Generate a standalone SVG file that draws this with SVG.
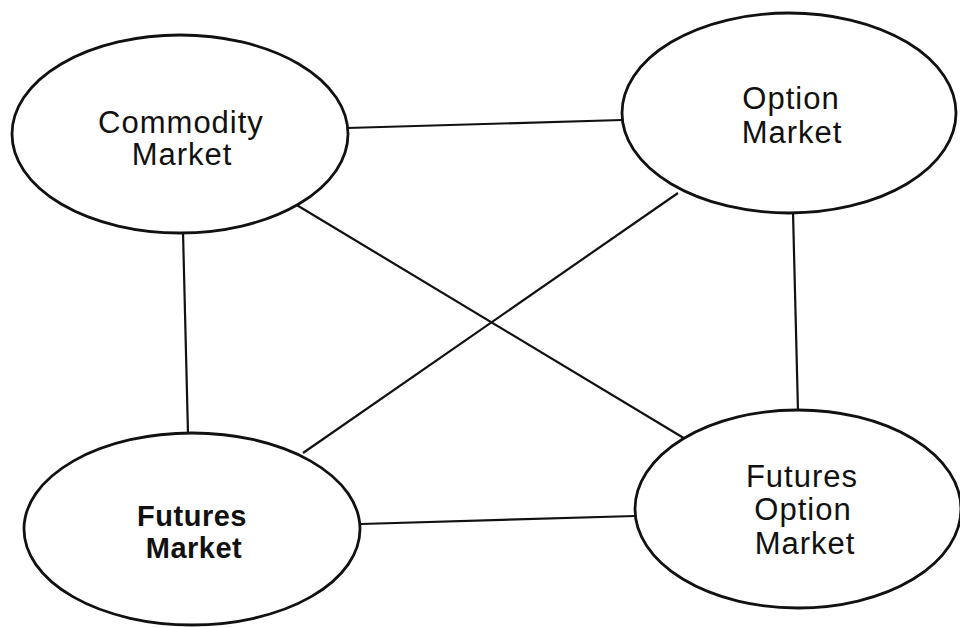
<svg xmlns="http://www.w3.org/2000/svg" width="960" height="627" viewBox="0 0 960 627">
<style>
.node{fill:#fff;stroke:#111;stroke-width:2.8}
.edge{stroke:#111;stroke-width:2.2;fill:none}
.lbl{font-family:"Liberation Sans",Arial,Helvetica,sans-serif;font-size:31px;letter-spacing:1px;fill:#111;text-anchor:middle}
.bold{font-weight:bold;font-size:29px;letter-spacing:0.5px}
</style>
<rect width="960" height="627" fill="#fff"/>
<g id="connectors">
<line class="edge" x1="347" y1="128" x2="622" y2="120"/>
<line class="edge" x1="183" y1="232" x2="188" y2="434"/>
<line class="edge" x1="295" y1="204" x2="687" y2="440"/>
<line class="edge" x1="678" y1="193" x2="303" y2="453"/>
<line class="edge" x1="793" y1="212" x2="798" y2="411"/>
<line class="edge" x1="361" y1="524" x2="635" y2="516"/>
</g>
<g id="commodity">
<ellipse class="node" cx="180" cy="134" rx="168" ry="99"/>
<text class="lbl" x="181" y="133">Commodity</text>
<text class="lbl" x="182" y="165">Market</text>
</g>
<g id="option">
<ellipse class="node" cx="789" cy="113" rx="167" ry="100"/>
<text class="lbl" x="791" y="109">Option</text>
<text class="lbl" x="792" y="143">Market</text>
</g>
<g id="futures">
<ellipse class="node" cx="192" cy="529" rx="168" ry="96"/>
<text class="lbl bold" x="192" y="526">Futures</text>
<text class="lbl bold" x="194" y="558">Market</text>
</g>
<g id="futures-option">
<ellipse class="node" cx="798" cy="509" rx="163" ry="99"/>
<text class="lbl" x="802" y="487">Futures</text>
<text class="lbl" x="803" y="520">Option</text>
<text class="lbl" x="805" y="554">Market</text>
</g>
</svg>
